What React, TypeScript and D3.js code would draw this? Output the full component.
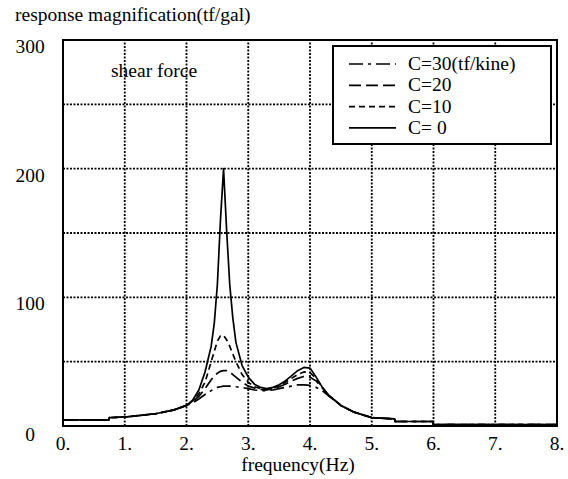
import React from 'react'
import * as d3 from 'd3'

const [WIDTH, HEIGHT] = [568, 479]
const margin = { left: 63, right: 11, top: 40, bottom: 53 }
const FONT = '"Liberation Serif", "Times New Roman", serif'
const FS = 19.5

// frequency grid (Hz) shared by every series
const freq = [0, 0.74, 0.75, 1.0, 1.5, 1.8, 2.0, 2.1, 2.2, 2.3,
  2.4, 2.45, 2.5, 2.55, 2.6, 2.65, 2.7, 2.75, 2.8, 2.9,
  3.0, 3.1, 3.2, 3.3, 3.4, 3.5, 3.6, 3.7, 3.8, 3.9,
  4.0, 4.1, 4.2, 4.3, 4.5, 4.7, 5.0, 5.37, 5.38, 5.99,
  6.0, 8.0]

const c0 = [4.7, 4.7, 6.5, 7, 9.5, 12.5, 16, 20, 28, 42,
  62, 80, 110, 160, 200, 152, 110, 84, 65, 47,
  38, 32.5, 30, 29, 30, 32, 35, 39, 43, 45.5,
  45, 38, 30, 24, 16, 11, 6.5, 5.5, 3.5, 3.5,
  1, 1]
const c10 = [4.7, 4.7, 6.5, 7, 9.5, 12.5, 16, 19.5, 25, 34,
  50, 58, 66, 70, 70.5, 67, 62, 56, 50, 40,
  34, 30.5, 29, 28.5, 29.5, 31, 34, 37, 40, 42,
  41.5, 37, 30, 24, 16, 11, 6.5, 5.5, 3.5, 3.5,
  1, 1]
const c20 = [4.7, 4.7, 6.5, 7, 9.5, 12.5, 16, 19, 23, 29,
  36, 39, 41, 42.5, 43, 43, 42, 40, 38, 34,
  31, 29.5, 28.5, 28, 29, 30.5, 32.5, 35, 37, 38.5,
  38, 35, 29.5, 24, 16, 11, 6.5, 5.5, 3.5, 3.5,
  1, 1]
const c30 = [4.7, 4.7, 6.5, 7, 9.5, 12.5, 16, 18, 21, 24.5,
  27.5, 29, 30, 30.5, 31, 31, 31, 31, 30.5, 30,
  29, 28, 27.5, 27.5, 28, 29, 30, 31, 32, 32,
  31.5, 30, 27.5, 23.5, 16, 11, 6.5, 5.5, 3.5, 3.5,
  1, 1]

const seriesLabels = ['C=30(tf/kine)', 'C=20', 'C=10', 'C= 0']
const seriesValues = [c30, c20, c10, c0]
const dashes = ['14,5,3,5', '12,5', '6,4', null]

const xTicks = [0, 1, 2, 3, 4, 5, 6, 7, 8]
const xTickLabels = ['0.', '1.', '2.', '3.', '4.', '5.', '6.', '7.', '8.']
const yTicks = [0, 100, 200, 300]
const yGrid = [50, 100, 150, 200, 250]

export default function App() {
  const x = d3.scaleLinear().domain([0, 8]).range([margin.left, WIDTH - margin.right])
  const y = d3.scaleLinear().domain([0, 300]).range([HEIGHT - margin.bottom, margin.top])
  const line = d3.line<number>()
    .x((_, i) => x(freq[i]))
    .y(d => y(d))

  const legendX = 333, legendY = 46
  const rowH = 21.3

  return (
    <div style={{ position: 'absolute', left: 0, top: 0 }}>
      <svg width={WIDTH} height={HEIGHT} style={{ display: 'block', background: '#fff' }}
        fontFamily={FONT} fontSize={FS}>
        {/* grid */}
        {yGrid.map(v => (
          <line key={'hy' + v} x1={x(0)} x2={x(8)} y1={y(v)} y2={y(v)}
            stroke="#000" strokeWidth={1.8} strokeDasharray="2,1.5" />
        ))}
        {xTicks.slice(1, -1).map(v => (
          <line key={'vx' + v} x1={x(v)} x2={x(v)} y1={y(0)} y2={y(300)}
            stroke="#000" strokeWidth={1.8} strokeDasharray="2,1.5" />
        ))}

        {/* curves */}
        {seriesValues.map((vals, i) => (
          <path key={i} d={line(vals) || ''} fill="none" stroke="#000"
            strokeWidth={1.7} strokeDasharray={dashes[i] || undefined} strokeLinejoin="round" />
        ))}

        {/* frame */}
        <rect x={x(0)} y={y(300)} width={x(8) - x(0)} height={y(0) - y(300)}
          fill="none" stroke="#000" strokeWidth={2} />

        {/* axis labels */}
        {yTicks.map(v => (
          <text key={'yl' + v} x={30} y={y(v) + (v === 0 ? 15 : 13)} textAnchor="middle">{v}</text>
        ))}
        {xTicks.map((v, i) => (
          <text key={'xl' + v} x={x(v)} y={450} textAnchor="middle">{xTickLabels[i]}</text>
        ))}
        <text x={15} y={21}>response magnification(tf/gal)</text>
        <text x={298} y={471} textAnchor="middle">frequency(Hz)</text>
        <text x={111} y={77}>shear force</text>

        {/* legend */}
        <rect x={legendX} y={legendY} width={218} height={98} fill="#fff" stroke="#000" strokeWidth={2} />
        {seriesLabels.map((label, i) => {
          const base = 70 + i * rowH
          return (
            <g key={label}>
              <line x1={349} x2={396} y1={base - 6} y2={base - 6} stroke="#000" strokeWidth={1.7}
                strokeDasharray={dashes[i] || undefined} />
              <text x={408} y={base}>{label}</text>
            </g>
          )
        })}
      </svg>
    </div>
  )
}
